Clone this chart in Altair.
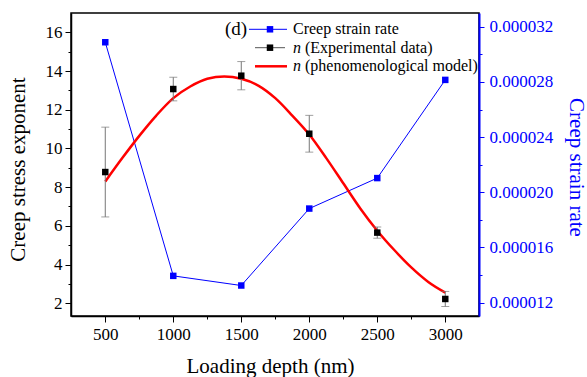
import altair as alt
import pandas as pd

# ---- data ----
depth = [500, 1000, 1500, 2000, 2500, 3000]
n_exp = [8.78, 13.07, 13.76, 10.76, 5.65, 2.22]
n_err = [2.32, 0.61, 0.73, 0.95, 0.29, 0.39]
strain_rate = [30.88e-6, 13.94e-6, 13.24e-6, 18.82e-6, 21.03e-6, 28.15e-6]

model_depth = [500, 625, 750, 875, 1000, 1125, 1250, 1375, 1500, 1625, 1750,
               1875, 2000, 2125, 2250, 2375, 2500, 2625, 2750, 2875, 3000]
model_n = [8.29, 9.5, 10.65, 11.7, 12.6, 13.2, 13.6, 13.72, 13.6, 13.25, 12.6,
           11.7, 10.72, 9.5, 8.2, 6.9, 5.75, 4.75, 3.85, 3.1, 2.55]

x_ticks = list(range(500, 3001, 250))
y_left_ticks = list(range(2, 17))
y_right_ticks = [k * 1e-6 for k in range(12, 33, 2)]

FONT = "Liberation Serif"
BLUE = "#0000ff"

exp_df = pd.DataFrame({
    "depth": depth,
    "n": n_exp,
    "lo": [a - b for a, b in zip(n_exp, n_err)],
    "hi": [a + b for a, b in zip(n_exp, n_err)],
})
rate_df = pd.DataFrame({"depth": depth, "rate": strain_rate})
model_df = pd.DataFrame({"depth": model_depth, "n": model_n})
dummy = pd.DataFrame({"a": [0]})

x_scale = alt.Scale(domain=[248, 3248], nice=False, zero=False)
yl_scale = alt.Scale(domain=[1.34, 17.0], nice=False, zero=False)
yr_scale = alt.Scale(domain=[11.03e-6, 33.0e-6], nice=False, zero=False)

x_axis = alt.Axis(
    values=x_ticks, format="d",
    labelExpr="datum.value % 500 ? '' : datum.label",
    tickSize={"condition": {"test": "datum.value % 500 !== 0", "value": 3}, "value": 6},
    title="Loading depth (nm)", titleX=199, titleY=50, titleAlign="center",
    titleBaseline="middle", grid=False, labelPadding=4,
)
yl_axis = alt.Axis(
    orient="left", values=y_left_ticks,
    labelExpr="datum.value % 2 ? '' : datum.label",
    tickSize={"condition": {"test": "datum.value % 2 !== 0", "value": 3}, "value": 6},
    title="Creep stress exponent", titleX=-53, titleY=156, titleAngle=270,
    titleAlign="center", titleBaseline="middle", grid=False,
)
yr_axis = alt.Axis(
    orient="right", values=y_right_ticks,
    labelExpr="round(datum.value*1e6) % 4 ? '' : format(datum.value, '.6f')",
    tickSize={"condition": {"test": "round(datum.value*1e6) % 4 !== 0", "value": 3}, "value": 5},
    title="Creep strain rate", titleX=96, titleY=154, titleAngle=90,
    titleAlign="center", titleBaseline="middle", grid=False,
    domainColor=BLUE, tickColor=BLUE, labelColor=BLUE, titleColor=BLUE,
    domainWidth=2, labelPadding=5,
)

X = alt.X("depth:Q", scale=x_scale, axis=x_axis)

# ---- right-axis group (strain rate) ----
rate_line = alt.Chart(rate_df).mark_line(color=BLUE, strokeWidth=1).encode(
    x=X, y=alt.Y("rate:Q", scale=yr_scale, axis=yr_axis))
rate_pts = alt.Chart(rate_df).mark_square(color=BLUE, size=42, opacity=1).encode(
    x=X, y=alt.Y("rate:Q", scale=yr_scale, axis=yr_axis))
right_group = alt.layer(rate_line, rate_pts)

# ---- left-axis group (stress exponent) ----
YL = alt.Y("n:Q", scale=yl_scale, axis=yl_axis)
model_line = alt.Chart(model_df).mark_line(
    color="#ff0000", strokeWidth=2.5, interpolate="monotone").encode(x=X, y=YL)
err_rule = alt.Chart(exp_df).mark_rule(color="#777777", strokeWidth=1).encode(
    x=X, y=alt.Y("lo:Q", scale=yl_scale, axis=yl_axis), y2="hi:Q")
cap_lo = alt.Chart(exp_df).mark_tick(orient="horizontal", size=8, thickness=1,
                                     color="#777777").encode(
    x=X, y=alt.Y("lo:Q", scale=yl_scale, axis=yl_axis))
cap_hi = alt.Chart(exp_df).mark_tick(orient="horizontal", size=8, thickness=1,
                                     color="#777777").encode(
    x=X, y=alt.Y("hi:Q", scale=yl_scale, axis=yl_axis))
exp_pts = alt.Chart(exp_df).mark_square(color="black", size=42, opacity=1).encode(
    x=X, y=YL)

# ---- legend (drawn in pixel space) ----
rows_y = [16.3, 34.7, 53.3]
LFS = 16
leg = []
leg.append(alt.Chart(dummy).mark_text(font=FONT, fontSize=19, align="center",
                                      baseline="middle", color="black").encode(
    x=alt.value(165), y=alt.value(16.3), text=alt.value("(d)")))
# row 1: creep strain rate
leg.append(alt.Chart(dummy).mark_rule(color=BLUE, strokeWidth=1).encode(
    x=alt.value(178), x2=alt.value(216), y=alt.value(rows_y[0])))
leg.append(alt.Chart(dummy).mark_square(color=BLUE, size=42, opacity=1).encode(
    x=alt.value(199), y=alt.value(rows_y[0])))
leg.append(alt.Chart(dummy).mark_text(font=FONT, fontSize=LFS, align="left",
                                      baseline="middle", color="black").encode(
    x=alt.value(222), y=alt.value(rows_y[0]), text=alt.value("Creep strain rate")))
# row 2: experimental
leg.append(alt.Chart(dummy).mark_rule(color="#555555", strokeWidth=1).encode(
    x=alt.value(184), x2=alt.value(214), y=alt.value(rows_y[1])))
leg.append(alt.Chart(dummy).mark_square(color="black", size=42, opacity=1).encode(
    x=alt.value(199), y=alt.value(rows_y[1])))
leg.append(alt.Chart(dummy).mark_text(font=FONT, fontSize=LFS, fontStyle="italic",
                                      align="left", baseline="middle", color="black").encode(
    x=alt.value(222), y=alt.value(rows_y[1]), text=alt.value("n")))
leg.append(alt.Chart(dummy).mark_text(font=FONT, fontSize=LFS, align="left",
                                      baseline="middle", color="black").encode(
    x=alt.value(234), y=alt.value(rows_y[1]), text=alt.value("(Experimental data)")))
# row 3: model
leg.append(alt.Chart(dummy).mark_rule(color="#ff0000", strokeWidth=2.5).encode(
    x=alt.value(184), x2=alt.value(216), y=alt.value(rows_y[2])))
leg.append(alt.Chart(dummy).mark_text(font=FONT, fontSize=LFS, fontStyle="italic",
                                      align="left", baseline="middle", color="black").encode(
    x=alt.value(222), y=alt.value(rows_y[2]), text=alt.value("n")))
leg.append(alt.Chart(dummy).mark_text(font=FONT, fontSize=LFS, align="left",
                                      baseline="middle", color="black").encode(
    x=alt.value(234), y=alt.value(rows_y[2]), text=alt.value("(phenomenological model)")))

left_group = alt.layer(model_line, err_rule, cap_lo, cap_hi, exp_pts, *leg)

chart = alt.layer(right_group, left_group).resolve_scale(y="independent").properties(
    width=408, height=303,
    autosize=alt.AutoSizeParams(type="none"),
    padding={"left": 71, "top": 13, "right": 108, "bottom": 61},
    background="white",
).configure_view(
    stroke="black", strokeWidth=1.5,
).configure_axis(
    labelFont=FONT, labelFontSize=17, labelColor="black",
    titleFont=FONT, titleFontSize=21, titleFontWeight="normal", titleColor="black",
    domainColor="black", domainWidth=1.5, tickColor="black", tickWidth=1,
    labelPadding=3,
)

chart.save("out.html", embed_options={"renderer": "svg", "actions": False})
